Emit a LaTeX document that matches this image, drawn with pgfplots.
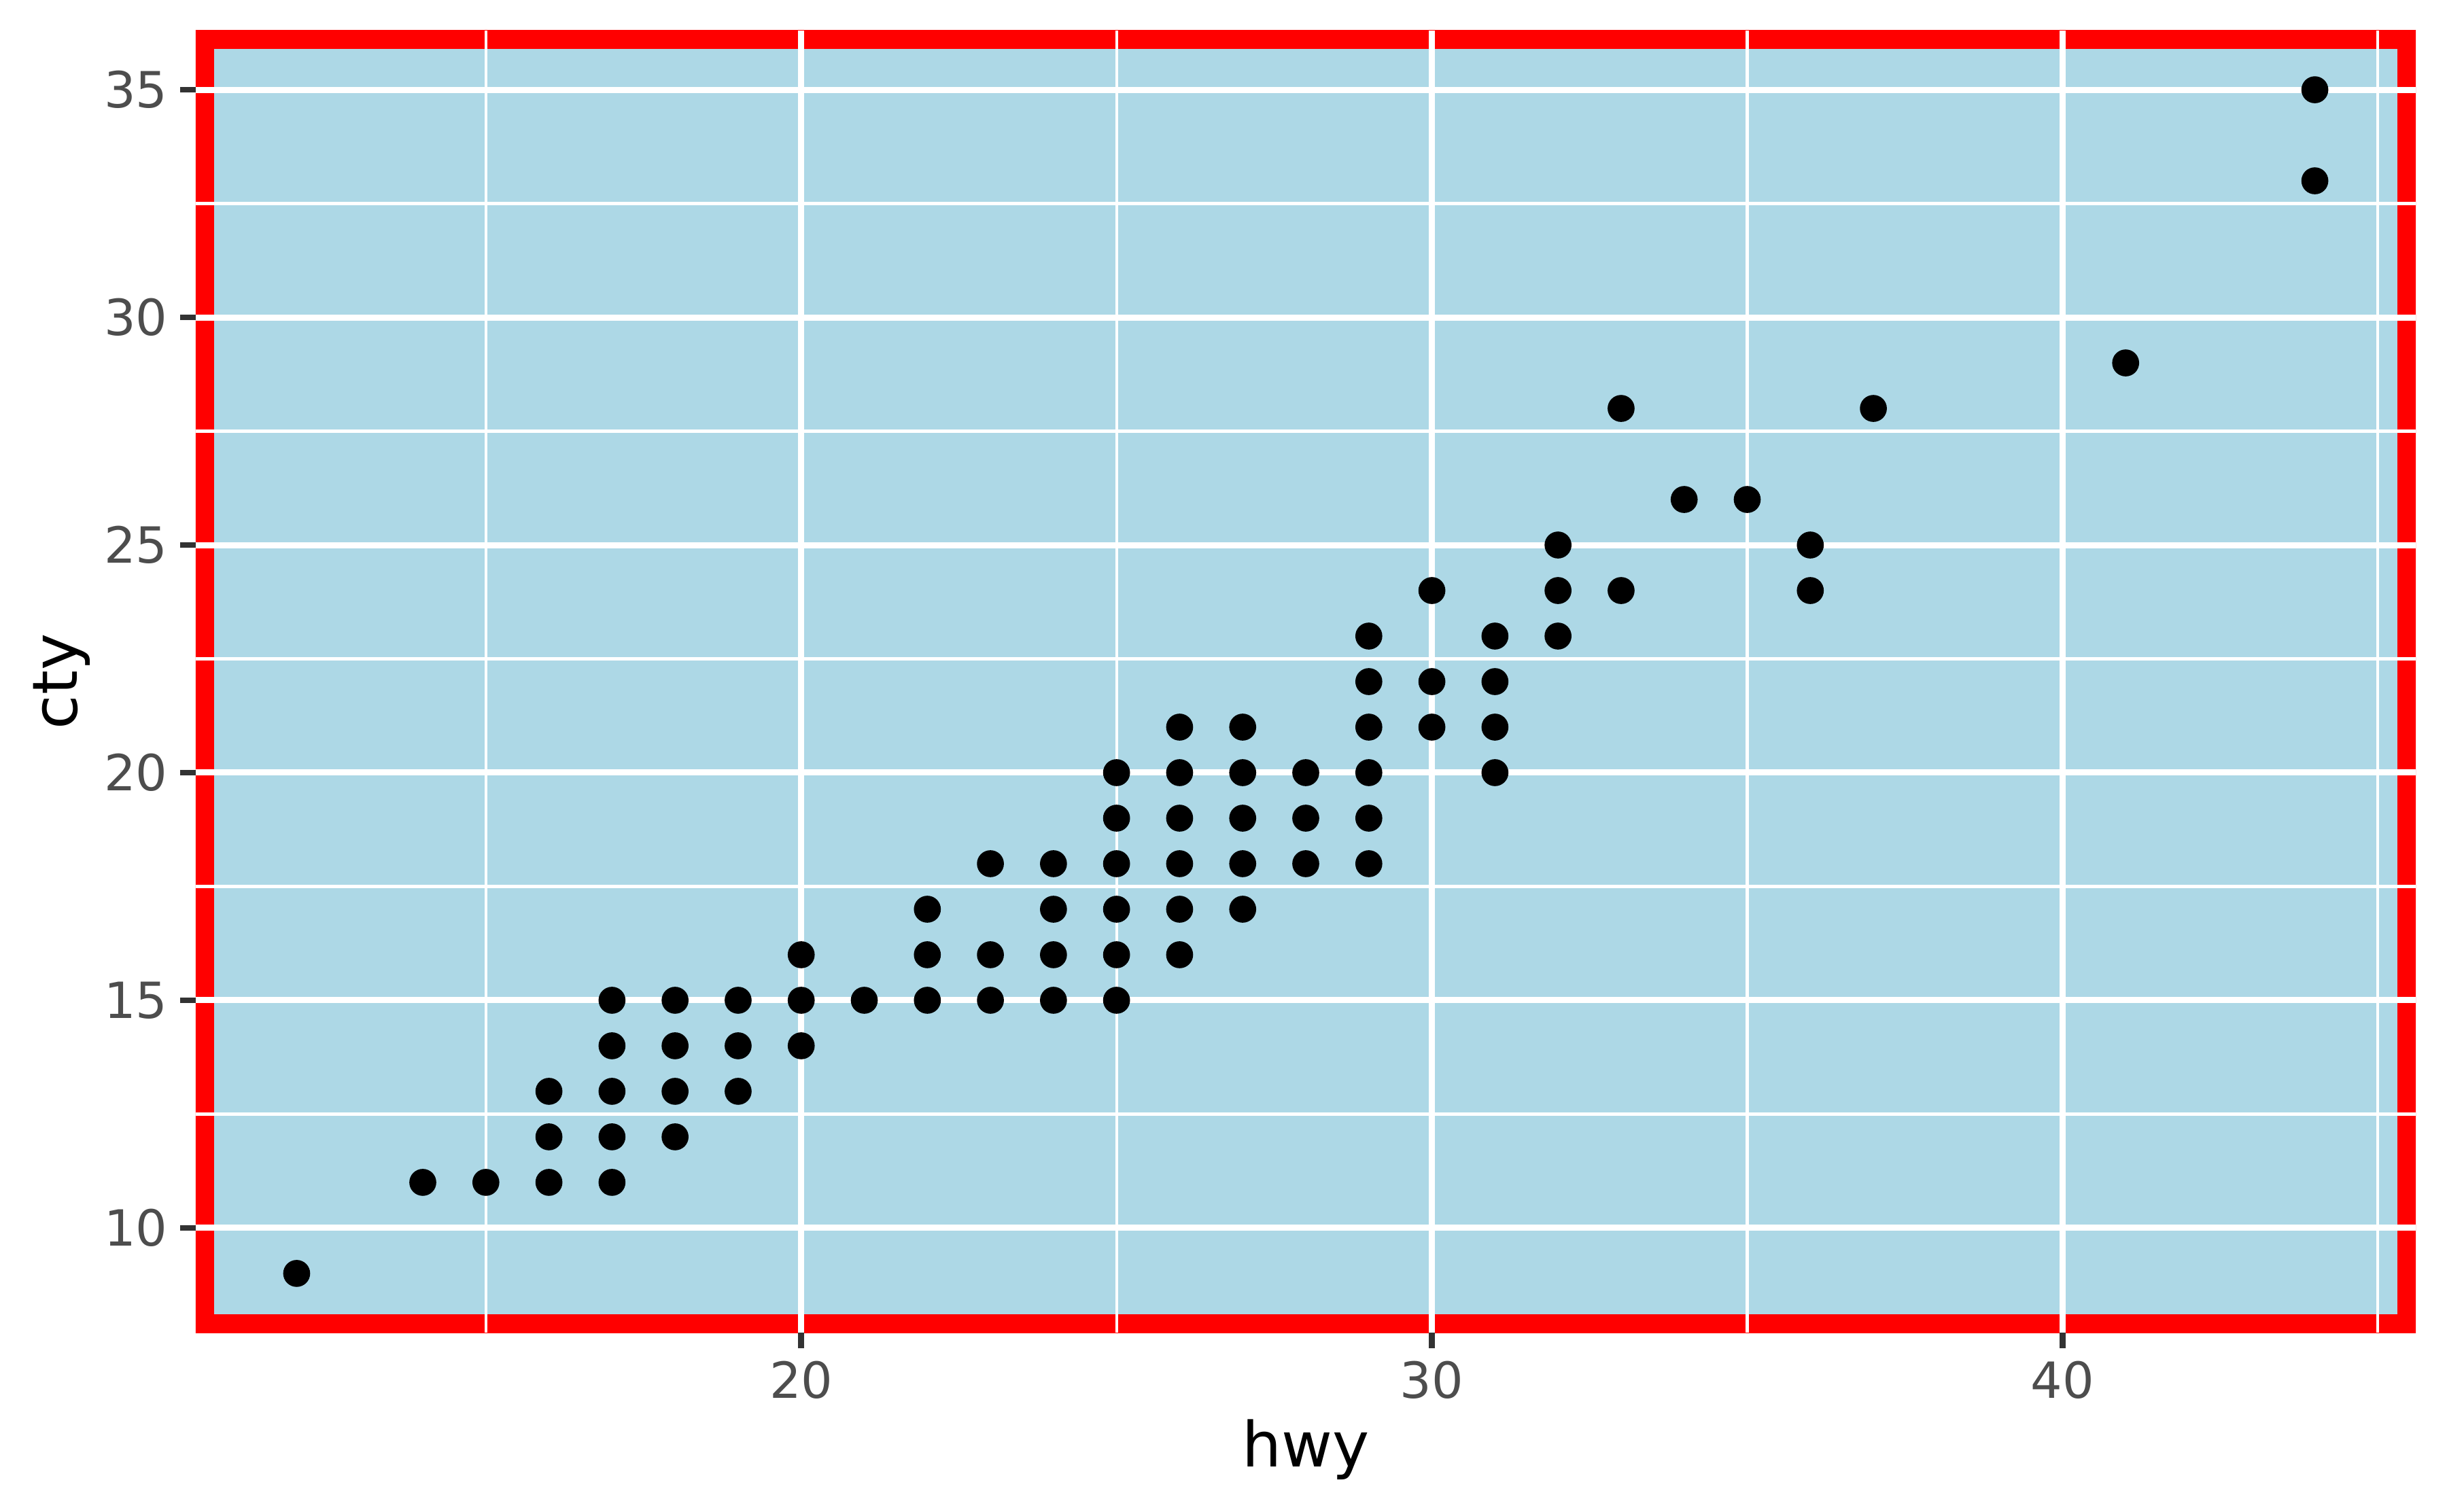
\documentclass[border=0pt]{standalone}
\usepackage{fontspec}
\setmainfont{DejaVu Sans}
\usepackage{pgfplots}
\pgfplotsset{compat=1.18}
\definecolor{panelbg}{HTML}{ADD8E6}
\definecolor{ticklab}{HTML}{4D4D4D}
\definecolor{tickcol}{HTML}{333333}
\begin{document}
\begin{tikzpicture}
\begin{axis}[
  scale only axis,
  width=783.84pt, height=459.84pt,
  xmin=10.4, xmax=45.6, ymin=7.7, ymax=36.3,
  axis background/.style={fill=panelbg,
    path picture={\draw[red, line width=12.8pt] (path picture bounding box.south west) rectangle (path picture bounding box.north east);}},
  axis line style={draw=none},
  xtick={20,30,40}, xticklabels={20,30,40},
  ytick={10,15,20,25,30,35}, yticklabels={10,15,20,25,30,35},
  minor xtick={15,25,35,45},
  minor ytick={12.5,17.5,22.5,27.5,32.5},
  xtick pos=bottom, ytick pos=left,
  tick align=outside,
  major tick length=5.5pt, minor tick length=0pt,
  major tick style={color=tickcol, line width=2.1pt},
  minor tick style={draw=none},
  grid=both,
  major grid style={white, line width=2.16pt},
  minor grid style={white, line width=1.0pt},
  ticklabel style={font=\fontsize{17.6}{17.6}\selectfont, text=ticklab, inner sep=0pt},
  xticklabel style={yshift=-4.3pt},
  yticklabel style={xshift=-4.3pt},
  xlabel={hwy}, ylabel={cty},
  label style={font=\fontsize{22}{22}\selectfont, text=black, inner sep=0pt},
  xlabel style={at={(axis description cs:0.5,-0.10286)}, anchor=base},
  ylabel style={at={(axis description cs:-0.05358,0.5)}, anchor=base, rotate=0},
]
\addplot[only marks, mark=*, mark size=4.56pt, mark options={draw=none, fill=black}] coordinates {
(12,9)
(14,11) (15,11)
(16,11) (16,12) (16,13)
(17,11) (17,12) (17,13) (17,14) (17,15)
(18,12) (18,13) (18,14) (18,15)
(19,13) (19,14) (19,15)
(20,14) (20,15) (20,16)
(21,15)
(22,15) (22,16) (22,17)
(23,15) (23,16) (23,18)
(24,15) (24,16) (24,17) (24,18)
(25,15) (25,16) (25,17) (25,18) (25,19) (25,20)
(26,16) (26,17) (26,18) (26,19) (26,20) (26,21)
(27,17) (27,18) (27,19) (27,20) (27,21)
(28,18) (28,19) (28,20)
(29,18) (29,19) (29,20) (29,21) (29,22) (29,23)
(30,21) (30,22) (30,24)
(31,20) (31,21) (31,22) (31,23)
(32,23) (32,24) (32,25)
(33,24) (33,28)
(34,26) (35,26)
(36,24) (36,25)
(37,28)
(41,29)
(44,33) (44,35)
};
\end{axis}
\path (current axis.south west) ++(-69.12pt,-63.12pt) rectangle ++(864pt,533.76pt);
\end{tikzpicture}
\end{document}
